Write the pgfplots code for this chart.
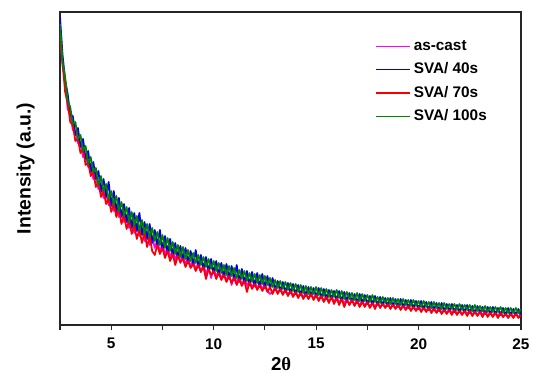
\documentclass[border=0pt]{standalone}
\usepackage{fontspec}
\setmainfont{Liberation Sans}
\newfontfamily\serifgreek{Liberation Serif}
\usepackage{pgfplots}
\usepackage{pgfplotstable}
\pgfplotsset{compat=1.18}
\definecolor{cmag}{RGB}{255,0,255}
\definecolor{cblue}{RGB}{0,0,230}
\definecolor{cred}{RGB}{245,0,0}
\definecolor{cgreen}{RGB}{0,130,0}
\pgfplotstableread{
x m b r g
2.500 292 308 290 301
2.625 259 270 262 263
2.750 243 245 233 248
2.875 216 231 222 224
3.000 211 210 203 218
3.125 195 209 200 201
3.250 194 190 184 203
3.375 182 197 186 186
3.500 183 178 172 190
3.625 168 186 176 174
3.750 170 166 160 179
3.875 158 174 162 161
4.000 161 153 149 168
4.125 146 163 153 153
4.250 148 146 138 157
4.375 136 154 143 140
4.500 141 133 128 149
4.625 127 146 134 134
4.750 131 128 121 141
4.875 120 143 127 126
5.000 127 119 113 134
5.125 114 134 121 120
5.250 121 113 108 129
5.375 108 127 116 114
5.500 115 108 101 123
5.625 103 121 110 109
5.750 110 103 96 118
5.875 97 117 105 103
6.000 105 97 91 113
6.125 92 112 100 99
6.250 101 94 86 109
6.375 89 112 96 95
6.500 97 90 82 105
6.625 84 103 93 91
6.750 93 86 78 101
6.875 80 101 89 88
7.000 89 82 74 97
7.125 77 95 70 84
7.250 85 79 80 93
7.375 73 95 71 80
7.500 82 75 77 90
7.625 70 89 67 77
7.750 79 72 74 87
7.875 67 86 64 74
8.000 76 70 71 83
8.125 65 82 60 71
8.250 73 67 69 80
8.375 62 79 63 68
8.500 71 65 66 78
8.625 60 77 58 66
8.750 68 62 64 75
8.875 58 74 57 64
9.000 65 60 61 72
9.125 55 75 54 62
9.250 63 58 60 70
9.375 53 70 53 60
9.500 61 56 58 68
9.625 51 68 46 58
9.750 58 54 56 66
9.875 47 66 50 56
10.000 57 52 54 64
10.125 48 64 46 54
10.250 55 50 52 62
10.375 46 62 45 52
10.500 53 48 50 60
10.625 44 61 43 50
10.750 52 46 49 59
10.875 40 59 42 49
11.000 50 45 47 57
11.125 42 60 40 47
11.250 49 43 46 55
11.375 40 56 39 46
11.500 47 42 44 54
11.625 39 54 33 44
11.750 45 40 43 52
11.875 37 53 36 43
12.000 44 39 41 51
12.125 36 52 35 42
12.250 43 38 40 50
12.375 35 51 34 41
12.500 42 37 39 49
12.625 34 49 33 40
12.750 31 36 38 47
12.875 33 47 31 38
13.000 38 35 37 45
13.125 32 44 31 37
13.250 37 34 36 44
13.375 31 43 30 36
13.500 36 33 35 43
13.625 30 42 29 35
13.750 35 32 34 42
13.875 29 41 28 34
14.000 34 31 33 41
14.125 28 40 27 33
14.250 33 30 32 40
14.375 27 39 26 32
14.500 33 29 31 39
14.625 26 38 26 31
14.750 32 29 31 38
14.875 26 37 25 31
15.000 31 28 30 38
15.125 25 37 24 30
15.250 30 27 29 37
15.375 24 36 23 29
15.500 30 26 28 36
15.625 23 35 22 28
15.750 29 26 28 35
15.875 23 34 21 28
16.000 28 25 27 35
16.125 22 34 20 27
16.250 27 24 26 34
16.375 21 33 18 26
16.500 27 24 25 33
16.625 20 32 20 26
16.750 26 23 25 32
16.875 20 31 19 25
17.000 25 22 24 32
17.125 19 31 18 24
17.250 25 22 23 31
17.375 19 30 18 24
17.500 24 21 23 30
17.625 18 29 17 23
17.750 23 21 22 30
17.875 18 29 16 23
18.000 23 20 22 28
18.125 18 28 17 22
18.250 22 20 21 28
18.375 18 27 17 22
18.500 22 19 21 27
18.625 17 27 16 21
18.750 21 19 20 27
18.875 17 26 16 21
19.000 21 18 20 26
19.125 16 26 15 20
19.250 20 18 19 26
19.375 16 25 15 20
19.500 20 17 19 25
19.625 15 25 14 19
19.750 19 17 18 25
19.875 15 24 14 19
20.000 19 16 18 24
20.125 14 24 13 18
20.250 18 16 17 24
20.375 14 23 13 18
20.500 18 15 17 23
20.625 13 23 12 17
20.750 17 15 16 23
20.875 13 22 12 17
21.000 17 14 16 22
21.125 12 22 11 16
21.250 16 14 15 22
21.375 12 21 11 16
21.500 16 14 15 21
21.625 12 21 10 16
21.750 16 13 15 21
21.875 11 20 10 15
22.000 15 13 14 21
22.125 11 20 10 15
22.250 15 13 14 20
22.375 11 20 9 15
22.500 15 12 14 20
22.625 10 19 9 14
22.750 14 12 13 20
22.875 10 19 9 14
23.000 14 12 13 19
23.125 10 18 8 14
23.250 14 11 13 19
23.375 9 18 8 13
23.500 13 11 12 18
23.625 9 18 8 13
23.750 13 11 12 18
23.875 9 17 7 13
24.000 13 10 12 18
24.125 8 17 8 12
24.250 12 10 11 17
24.375 8 17 7 12
24.500 12 10 11 17
24.625 8 16 7 12
24.750 12 10 11 17
24.875 8 16 7 12
25.000 11 9 10 16
}\datatable
\begin{document}
\begin{tikzpicture}
\useasboundingbox (0,0) rectangle (399.75pt,280.5pt);
\begin{axis}[
  at={(45pt,36.75pt)}, anchor=south west,
  scale only axis,
  width=345.75pt, height=234.75pt,
  xmin=2.5, xmax=25, ymin=0, ymax=313,
  axis line style={black!85, line width=0.8pt},
  xtick={5,10,15,20,25},
  minor xtick={2.5,7.5,12.5,17.5,22.5},
  ytick=\empty,
  xtick pos=bottom,
  tick align=outside,
  major tick length=3.5pt, minor tick length=3.5pt,
  tick style={black!85, line width=0.8pt},
  /pgf/number format/assume math mode=true,
  ticklabel style={font=\bfseries\fontsize{11.5}{13}\selectfont},
  xticklabel style={yshift=-3pt},
  xlabel={\bfseries\fontsize{14}{16}\selectfont 2{\serifgreek θ}},
  ylabel={\bfseries\fontsize{14.5}{16}\selectfont Intensity (a.u.)},
  xlabel style={yshift=0.5pt, xshift=-7pt},
  ylabel style={yshift=12pt},
  legend style={at={(0.675,0.927)}, anchor=north west, draw=none, fill=none,
    font=\bfseries\fontsize{11.5}{13}\selectfont, row sep=3.8pt,
    /tikz/every even column/.append style={column sep=2pt}},
  legend cell align=left,
  legend image code/.code={\draw[#1, line width=1.25pt] (0pt,0pt) -- (25.5pt,0pt);},
  every axis plot/.append style={line width=1.3pt, line join=round},
]
\addplot[color=cmag] table[x=x,y=m] {\datatable};
\addlegendentry{as-cast}
\addplot[color=cblue] table[x=x,y=b] {\datatable};
\addlegendentry{SVA/ 40s}
\addplot[color=cred] table[x=x,y=r] {\datatable};
\addlegendentry{SVA/ 70s}
\addplot[color=cgreen] table[x=x,y=g] {\datatable};
\addlegendentry{SVA/ 100s}
\end{axis}
\end{tikzpicture}
\end{document}
